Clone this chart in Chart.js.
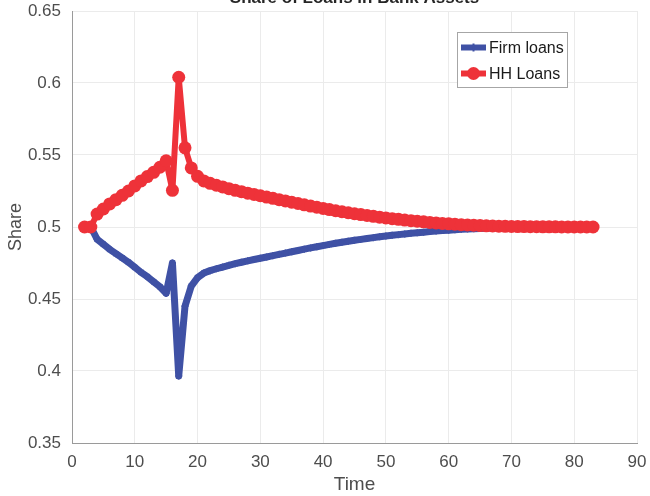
<!DOCTYPE html>
<html>
<head>
<meta charset="utf-8">
<script src="https://cdn.jsdelivr.net/npm/chart.js@4"></script>
<style>
  body { margin: 0; background: #fff; }
  #wrap { width: 650px; height: 496px; }
</style>
</head>
<body>
<div id="wrap"><canvas id="shareChart" width="650" height="496"></canvas></div>
<script>
// Time periods
const time = [
  2, 3, 4, 5, 6, 7, 8, 9, 10, 11, 12, 13, 14, 15, 16, 17, 18, 19, 20,
  21, 22, 23, 24, 25, 26, 27, 28, 29, 30, 31, 32, 33, 34, 35, 36, 37, 38, 39, 40,
  41, 42, 43, 44, 45, 46, 47, 48, 49, 50, 51, 52, 53, 54, 55, 56, 57, 58, 59, 60,
  61, 62, 63, 64, 65, 66, 67, 68, 69, 70, 71, 72, 73, 74, 75, 76, 77, 78, 79, 80,
  81, 82, 83
];

// Share of household loans in bank assets
const hhLoans = [
  0.500, 0.500, 0.509, 0.5125, 0.516, 0.519, 0.522, 0.525, 0.5285, 0.532, 0.535, 0.538, 0.5415, 0.546,
  0.5255, 0.604, 0.555, 0.541, 0.5352,
  0.5320, 0.5303, 0.5290, 0.5278, 0.5266, 0.5255, 0.5245, 0.5235, 0.5226, 0.5217,
  0.5208, 0.5199, 0.5190, 0.5181, 0.5172, 0.5163, 0.5154, 0.5145, 0.5137, 0.5129,
  0.5121, 0.5113, 0.5106, 0.5099, 0.5092, 0.5086, 0.5080, 0.5074, 0.5068, 0.5063,
  0.5058, 0.5053, 0.5048, 0.5044, 0.5040, 0.5036, 0.5032, 0.5028, 0.5025, 0.5022,
  0.5019, 0.5016, 0.5014, 0.5012, 0.5010, 0.5008, 0.5007, 0.5006, 0.5005, 0.5004,
  0.5003, 0.5003, 0.5002, 0.5002, 0.5001, 0.5001, 0.5001, 0.5000, 0.5000, 0.5000,
  0.5000, 0.5000, 0.5000
];

// Share of firm loans in bank assets
const firmLoans = [
  0.500, 0.500, 0.4915, 0.488, 0.4845, 0.4815, 0.4785, 0.4755, 0.472, 0.4685, 0.4655, 0.462, 0.4585, 0.454,
  0.475, 0.3965, 0.445, 0.459, 0.4648,
  0.4680, 0.4697, 0.4710, 0.4722, 0.4734, 0.4745, 0.4755, 0.4765, 0.4774, 0.4783,
  0.4792, 0.4801, 0.4810, 0.4819, 0.4828, 0.4837, 0.4846, 0.4855, 0.4863, 0.4871,
  0.4879, 0.4887, 0.4894, 0.4901, 0.4908, 0.4914, 0.4920, 0.4926, 0.4932, 0.4937,
  0.4942, 0.4947, 0.4952, 0.4956, 0.4960, 0.4964, 0.4968, 0.4972, 0.4975, 0.4978,
  0.4981, 0.4984, 0.4986, 0.4988, 0.4990, 0.4992, 0.4993, 0.4994, 0.4995, 0.4996,
  0.4997, 0.4997, 0.4998, 0.4998, 0.4999, 0.4999, 0.4999, 0.5000, 0.5000, 0.5000,
  0.5000, 0.5000, 0.5000
];

const BLUE = '#3f51a5';
const RED = '#ee3239';
const FONT = '"Liberation Sans", Arial, Helvetica, sans-serif';

const toPoints = (ys) => time.map((t, i) => ({ x: t, y: ys[i] }));

// Title (sits above the canvas edge) and boxed legend in the upper right
const overlay = {
  id: 'overlay',
  afterDraw(chart) {
    const { ctx, chartArea } = chart;
    ctx.save();
    ctx.fillStyle = '#262626';
    ctx.font = 'bold 17px ' + FONT;
    ctx.textAlign = 'center';
    ctx.textBaseline = 'alphabetic';
    ctx.fillText('Share of Loans in Bank Assets', (chartArea.left + chartArea.right) / 2, 3);

    const bx = 457.5, by = 32.5, bw = 110, bh = 55;
    ctx.fillStyle = '#fff';
    ctx.fillRect(bx, by, bw, bh);
    ctx.strokeStyle = '#a6a6a6';
    ctx.lineWidth = 1;
    ctx.strokeRect(bx, by, bw, bh);

    const entries = [
      { label: 'Firm loans', color: BLUE, y: 47.5, lw: 6, marker: 'star' },
      { label: 'HH Loans', color: RED, y: 73.5, lw: 6, marker: 'circle' }
    ];
    entries.forEach((e) => {
      ctx.strokeStyle = e.color;
      ctx.lineWidth = e.lw;
      ctx.beginPath();
      ctx.moveTo(461, e.y);
      ctx.lineTo(486, e.y);
      ctx.stroke();
      ctx.fillStyle = e.color;
      if (e.marker === 'circle') {
        ctx.beginPath();
        ctx.arc(473.5, e.y, 6.5, 0, Math.PI * 2);
        ctx.fill();
      } else {
        ctx.lineWidth = 2;
        ctx.beginPath();
        ctx.moveTo(473.5, e.y - 4);
        ctx.lineTo(473.5, e.y + 4);
        ctx.stroke();
      }
      ctx.fillStyle = '#1a1a1a';
      ctx.font = '16px ' + FONT;
      ctx.textAlign = 'left';
      ctx.textBaseline = 'middle';
      ctx.fillText(e.label, 489, e.y + 1);
    });
    ctx.restore();
  }
};

new Chart(document.getElementById('shareChart'), {
  type: 'line',
  data: {
    datasets: [
      {
        label: 'HH Loans',
        data: toPoints(hhLoans),
        borderColor: RED,
        backgroundColor: RED,
        borderWidth: 6,
        borderJoinStyle: 'round',
        borderCapStyle: 'round',
        pointStyle: 'circle',
        pointRadius: 6.5,
        pointBorderWidth: 0,
        tension: 0,
        order: 1
      },
      {
        label: 'Firm loans',
        data: toPoints(firmLoans),
        borderColor: BLUE,
        backgroundColor: BLUE,
        borderWidth: 7,
        borderJoinStyle: 'round',
        borderCapStyle: 'round',
        pointStyle: 'star',
        pointRadius: 3.5,
        pointBorderWidth: 1.5,
        pointBorderColor: BLUE,
        tension: 0,
        order: 2
      }
    ]
  },
  options: {
    responsive: false,
    animation: false,
    layout: { padding: { top: 11, right: 13, left: 0, bottom: 0 } },
    plugins: {
      legend: { display: false },
      title: { display: false },
      tooltip: { enabled: false }
    },
    scales: {
      x: {
        type: 'linear',
        min: 0,
        max: 90,
        ticks: {
          stepSize: 10,
          padding: 9,
          color: '#4d4d4d',
          font: { family: FONT, size: 17 }
        },
        grid: { color: '#ebebeb', drawTicks: false },
        border: { color: '#9a9a9a', width: 1 },
        title: {
          display: true,
          text: 'Time',
          color: '#4d4d4d',
          font: { family: FONT, size: 19 },
          padding: { top: 0, bottom: 0 }
        },
        afterFit(scale) {
          scale.height = 53;
          scale.paddingLeft = 0;
          scale.paddingRight = 0;
        }
      },
      y: {
        min: 0.35,
        max: 0.65,
        ticks: {
          stepSize: 0.05,
          padding: 11,
          color: '#4d4d4d',
          font: { family: FONT, size: 17 },
          callback: (v) => String(Number(v.toFixed(2)))
        },
        grid: { color: '#ebebeb', drawTicks: false },
        border: { color: '#9a9a9a', width: 1 },
        title: {
          display: true,
          text: 'Share',
          color: '#4d4d4d',
          font: { family: FONT, size: 18 },
          padding: { top: 5, bottom: 0 }
        },
        afterFit(scale) {
          scale.width = 72;
          scale.paddingTop = 0;
          scale.paddingBottom = 0;
        }
      }
    }
  },
  plugins: [overlay]
});
</script>
</body>
</html>
